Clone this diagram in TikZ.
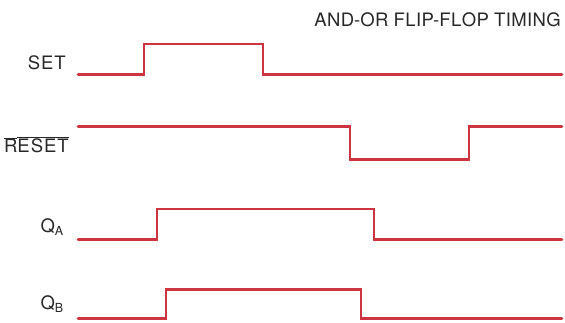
\documentclass[tikz,border=0pt]{standalone}
\usepackage{fontspec}
\setmainfont{TeX Gyre Heros}
\definecolor{wave}{RGB}{204,52,64}
\definecolor{ink}{RGB}{40,40,40}
\begin{document}
\begin{tikzpicture}[x=1pt,y=-1pt,
  wavepath/.style={draw=wave,line width=2.6pt,line join=miter,line cap=round},
  siglabel/.style={text=ink,font=\fontsize{18.5}{20}\selectfont,anchor=east,inner sep=0pt},
  titlelabel/.style={text=ink,font=\fontsize{18.5}{20}\selectfont,anchor=east,inner sep=0pt}]
\useasboundingbox (0,0) rectangle (565,322);
\node[titlelabel] (title) at (561,20) {A\kern.4pt N\kern.4pt D-O\kern.4pt R F\kern.4pt L\kern.4pt I\kern.4pt P-F\kern.4pt L\kern.4pt O\kern.4pt P T\kern.4pt I\kern.4pt M\kern.4pt I\kern.4pt N\kern.4pt G};
\node[siglabel] (set) at (66,63) {S\kern1pt E\kern1pt T};
\node[siglabel] (reset) at (69,145) {$\overline{\mbox{R}}\overline{\mbox{E\kern1pt S\kern1pt E\kern1pt T}}$};
\node[siglabel] (qa) at (64,227) {Q$_{\mbox{\fontsize{12.5}{13}\selectfont A}}$};
\node[siglabel] (qb) at (64,304) {Q$_{\mbox{\fontsize{12.5}{13}\selectfont B}}$};
\coordinate (s0) at (78,74.5);
\coordinate (r0) at (78,126.5);
\coordinate (a0) at (78,239.5);
\coordinate (b0) at (78,318.5);
\path[wavepath] (s0) -- (144,74.5) -- (144,44) -- (263,44) -- (263,74.5) -- (562,74.5);
\path[wavepath] (r0) -- (350,126.5) -- (350,159.5) -- (469,159.5) -- (469,126.5) -- (562,126.5);
\path[wavepath] (a0) -- (157,239.5) -- (157,209) -- (374,209) -- (374,239.5) -- (562,239.5);
\path[wavepath] (b0) -- (166,318.5) -- (166,289.5) -- (361,289.5) -- (361,318.5) -- (562,318.5);
\end{tikzpicture}
\end{document}
